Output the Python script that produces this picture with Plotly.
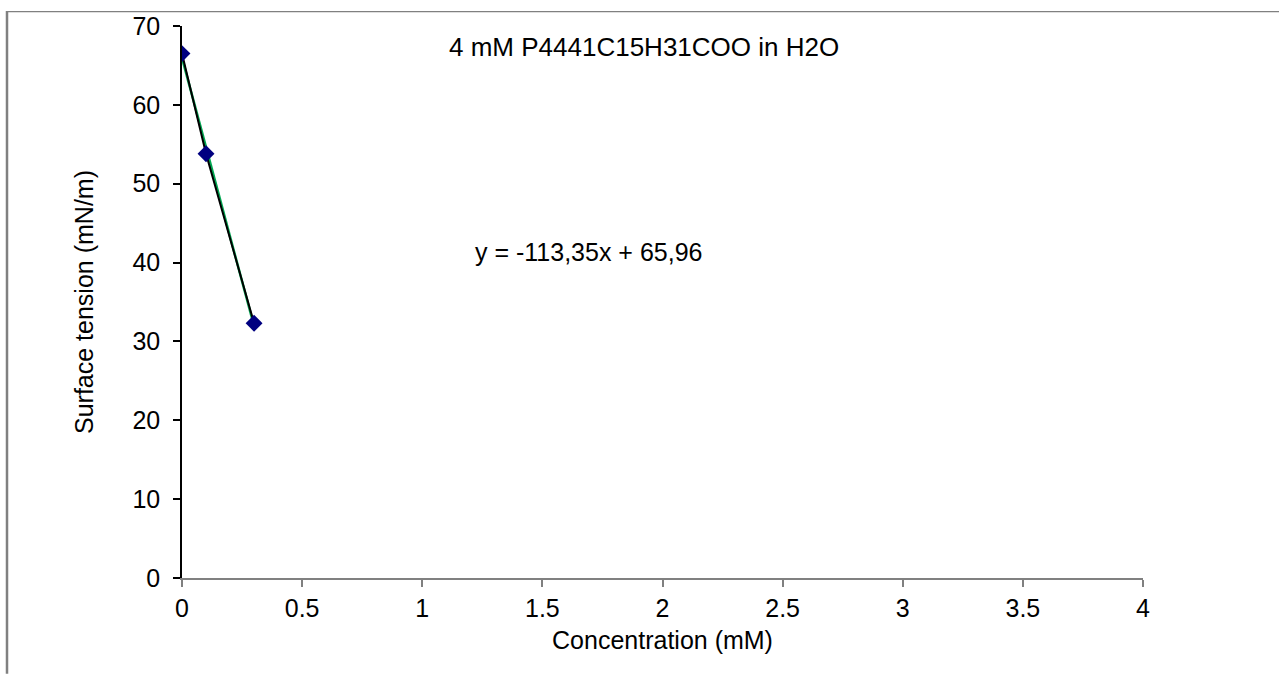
import plotly.graph_objects as go

conc = [0.0, 0.1, 0.3]
tension = [66.5, 53.8, 32.3]
slope, intercept = -113.35, 65.96
fit_x = [0.0, 0.3]
fit_y = [slope * v + intercept for v in fit_x]

W, H = 1279, 674
L, R, T, B = 182, 1143, 24, 578
FONT = "Liberation Sans, Arial, sans-serif"
FS = 25

fig = go.Figure()
fig.add_trace(go.Scatter(x=fit_x, y=fit_y, mode="lines",
                         line=dict(color="#00a651", width=2.5), showlegend=False))
fig.add_trace(go.Scatter(x=conc, y=tension, mode="lines+markers",
                         line=dict(color="black", width=2),
                         marker=dict(symbol="diamond", size=13, color="#000080"),
                         showlegend=False))

def px2paper_x(px):
    return (px - L) / (R - L)

def px2paper_y(py):
    return (B - py) / (B - T)

fig.add_shape(type="line", xref="paper", yref="paper",
              x0=px2paper_x(7), x1=px2paper_x(7), y0=px2paper_y(9), y1=px2paper_y(674),
              line=dict(color="#808080", width=2.5))
fig.add_shape(type="line", xref="paper", yref="paper",
              x0=px2paper_x(6), x1=px2paper_x(1279), y0=px2paper_y(9.5), y1=px2paper_y(9.5),
              line=dict(color="#808080", width=1.2))

fig.add_annotation(text="4 mM P4441C15H31COO in H2O", xref="paper", yref="paper",
                   x=px2paper_x(643.5), y=px2paper_y(45), xanchor="center", yanchor="middle",
                   showarrow=False, font=dict(family=FONT, size=26, color="black"))
fig.add_annotation(text="y = -113,35x + 65,96", xref="paper", yref="paper",
                   x=px2paper_x(588), y=px2paper_y(251), xanchor="center", yanchor="middle",
                   showarrow=False, font=dict(family=FONT, size=FS, color="black"))

fig.update_layout(
    width=W, height=H,
    margin=dict(l=L, r=W - R, t=T, b=H - B),
    paper_bgcolor="white", plot_bgcolor="white",
    font=dict(family=FONT, size=FS, color="black"),
    xaxis=dict(range=[0, 4], dtick=0.5, showgrid=False, zeroline=False,
               showline=True, linecolor="#808080", linewidth=1.5,
               ticks="outside", ticklen=7, tickcolor="#808080", tickwidth=1.5,
               ticklabelstandoff=0,
               title=dict(text="Concentration (mM)", standoff=11,
                          font=dict(family=FONT, size=FS, color="black")),
               tickfont=dict(family=FONT, size=FS, color="black")),
    yaxis=dict(range=[0, 70], dtick=10, showgrid=False, zeroline=False,
               showline=True, linecolor="black", linewidth=1.5,
               ticks="outside", ticklen=7, tickcolor="black", tickwidth=1.5,
               ticklabelstandoff=8,
               title=dict(text="Surface tension (mN/m)", standoff=32,
                          font=dict(family=FONT, size=FS, color="black")),
               tickfont=dict(family=FONT, size=FS, color="black")),
)

fig.write_html("out.html", config={"displayModeBar": False},
               post_script="document.body.style.margin='0';")
